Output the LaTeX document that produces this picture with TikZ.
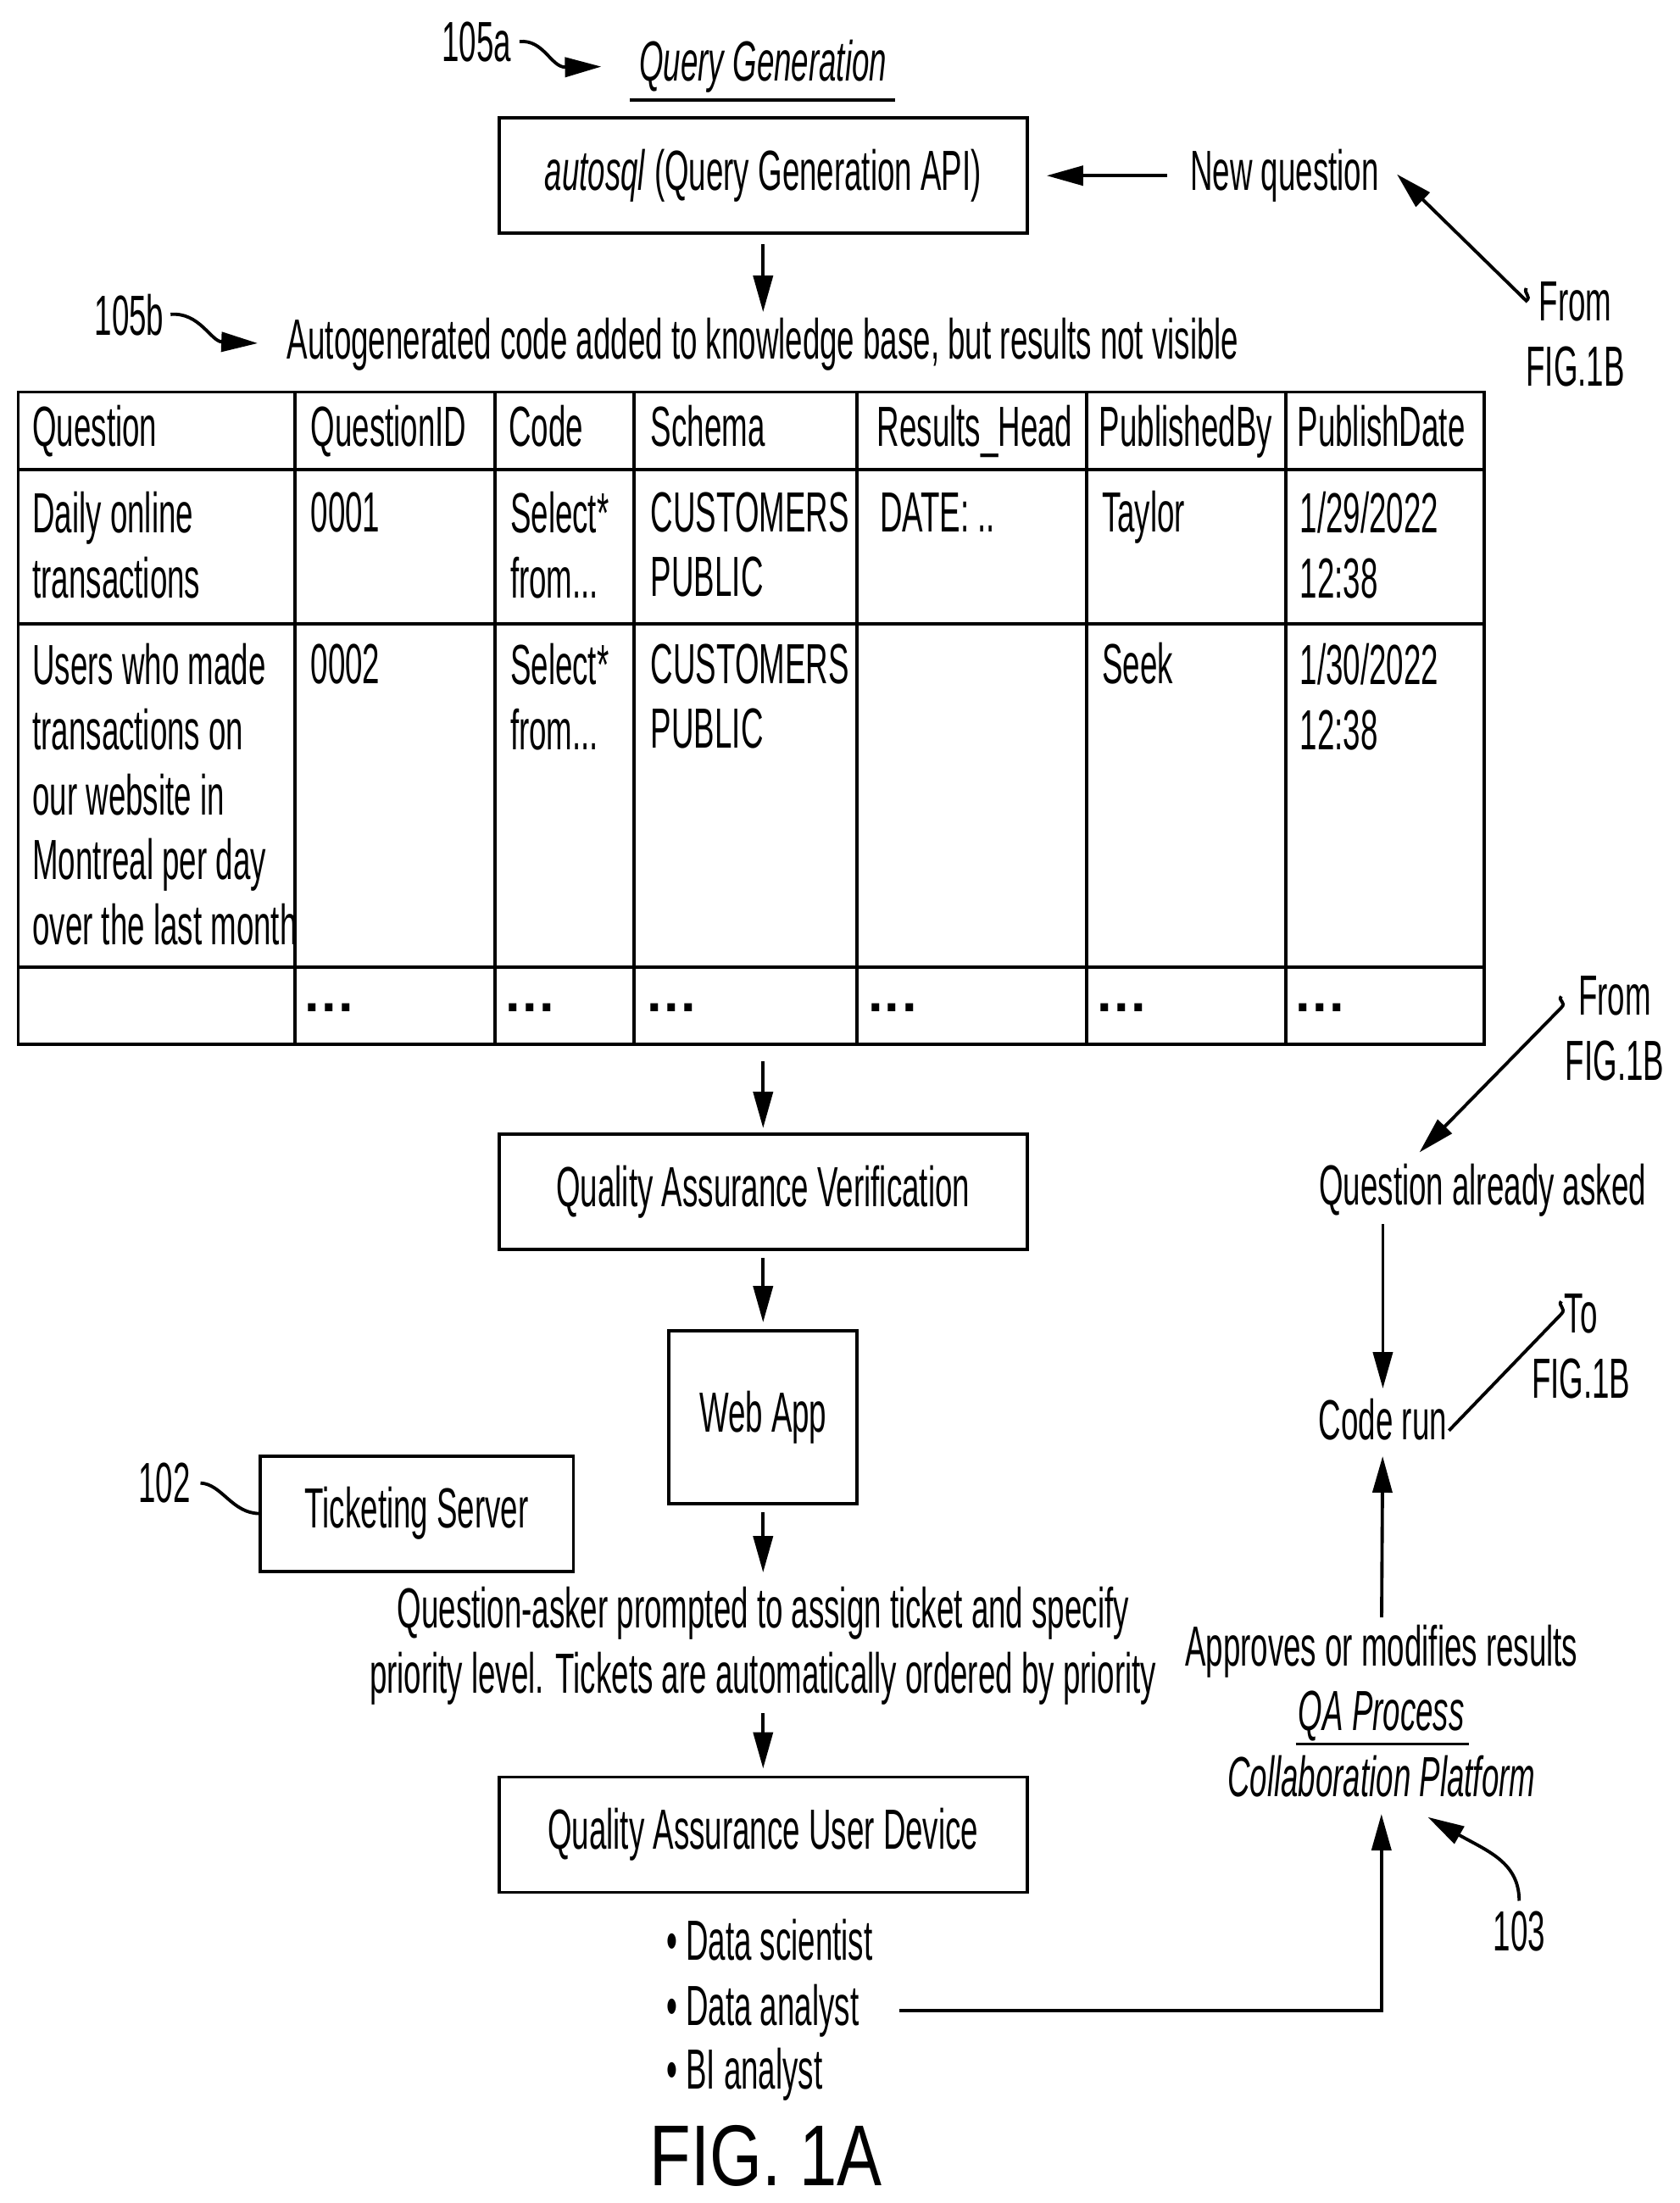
\documentclass[tikz,border=0pt]{standalone}
\usepackage{fontspec}
\setmainfont[FakeStretch=0.55]{Liberation Sans}
\newfontfamily\figfont[FakeStretch=0.78]{Liberation Sans}
\newfontfamily\dotfont{Liberation Sans}
\newcommand{\cellgap}{{\dotfont\bfseries\fontsize{18}{18}\selectfont .\hspace{0.7pt}.\hspace{0.7pt}.}}
\usetikzlibrary{shapes,arrows.meta}

\begin{document}
\begin{tikzpicture}[draw=black!100,x=0.01658cm,y=-0.01658cm,line width=1.1pt,font=\fontsize{19}{21.8}\selectfont]
	\def \hdrtop{284}
	\def \rowonetop{349}
	\def \rowonesgl{345}
	\def \rowtwotop{457}
	\def \rowtwosgl{453}
	\tikzstyle{box}=[rectangle,draw=black!100,inner sep=0pt,outer sep=0pt,minimum width=6.234cm,minimum height=1.36cm,font=\fontsize{19}{21.8}\selectfont]
	\tikzstyle{annot}=[inner sep=0pt,align=center,font=\fontsize{19}{21.8}\selectfont]
	\tikzstyle{cell}=[anchor=north west,inner sep=0pt,align=left,font=\fontsize{19}{21.8}\selectfont,execute at begin node=\strut]
	\tikzstyle{bullet}=[anchor=west,inner sep=0pt,text height=15pt,text depth=5pt,font=\fontsize{19}{21.8}\selectfont]
	\tikzstyle{flow}=[-{Triangle[length=4.3mm,width=2.3mm]}]
	\useasboundingbox (0,0) rectangle (1195.4,1567.6);
	% labels
	\node[annot] (l105a)	at (339,30)	{105a};
	\node[annot] (l105b)	at (92,224)	{105b};
	\node[annot] (l102)	at (117,1055)	{102};
	\node[annot] (l103)	at (1081,1374)	{103};
	\node[annot] (fromnew)	at (1121,238)	{From\\FIG.1B};
	\node[annot] (fromold)	at (1149,732)	{From\\FIG.1B};
	\node[annot] (tofig)	at (1125,958)	{To\\FIG.1B};
	% main column
	\node[annot] (qgen)	at (543,47)	{\itshape Query Generation};
	\node[box] (autosql)	at (543,125)	{\textit{autosql} (Query Generation API)};
	\node[annot] (newq)	at (914,125)	{New question};
	\node[annot] (autogen)	at (543,245)	{Autogenerated code added to knowledge base, but results not visible};
	\node[box] (qav)	at (543,848)	{Quality Assurance Verification};
	\node[box,minimum width=2.22cm,minimum height=2.04cm] (webapp)	at (543,1008.5)	{Web App};
	\node[box,minimum width=3.7cm] (ticket)	at (296.5,1077)	{Ticketing Server};
	\node[annot] (prompt)	at (543,1171)	{Question-asker prompted to assign ticket and specify\\priority level. Tickets are automatically ordered by priority};
	\node[box] (qaud)	at (543,1305.5)	{Quality Assurance User Device};
	\node[bullet] (ds)	at (473,1384)	{• Data scientist};
	\node[bullet] (da)	at (473,1430.5)	{• Data analyst};
	\node[bullet] (bi)	at (473,1476)	{• BI analyst};
	\node[annot,font=\figfont\fontsize{29}{29}\selectfont] (figlabel)	at (545,1534)	{FIG. 1A};
	% right column
	\node[annot] (asked)	at (1055,847)	{Question already asked};
	\node[annot] (coderun)	at (984,1010)	{Code run};
	\node[annot] (approves)	at (983,1175)	{Approves or modifies results};
	\node[annot] (qaproc)	at (983,1221)	{\itshape QA Process};
	\node[annot] (collab)	at (983,1264)	{\itshape Collaboration Platform};
	\draw (448,71) -- (637,71);
	\draw (922,1241) -- (1045,1241);
	% table grid
	\draw (13,279) rectangle (1056,743);
	\draw (13,334) -- (1056,334);
	\draw (13,444) -- (1056,444);
	\draw (13,688) -- (1056,688);
	\draw (210,279) -- (210,743);
	\draw (352,279) -- (352,743);
	\draw (451,279) -- (451,743);
	\draw (610,279) -- (610,743);
	\draw (773,279) -- (773,743);
	\draw (915,279) -- (915,743);
	% header row
	\node[cell] (h0)	at (22,\hdrtop)		{Question};
	\node[cell] (h1)	at (220,\hdrtop)	{QuestionID};
	\node[cell] (h2)	at (361,\hdrtop)	{Code};
	\node[cell] (h3)	at (462,\hdrtop)	{Schema};
	\node[cell] (h4)	at (623,\hdrtop)	{Results\_Head};
	\node[cell] (h5)	at (781,\hdrtop)	{PublishedBy};
	\node[cell] (h6)	at (922,\hdrtop)	{PublishDate};
	% first row
	\node[cell] (a0)	at (22,\rowonetop)	{Daily online\\transactions};
	\node[cell] (a1)	at (220,\rowonesgl)	{0001};
	\node[cell] (a2)	at (362,\rowonetop)	{Select*\\from...};
	\node[cell] (a3)	at (462,\rowonetop)	{CUSTOMERS\\PUBLIC};
	\node[cell] (a4)	at (625,\rowonesgl)	{DATE: ..};
	\node[cell] (a5)	at (783,\rowonesgl)	{Taylor};
	\node[cell] (a6)	at (924,\rowonetop)	{1/29/2022\\12:38};
	% second row
	\node[cell] (b0)	at (22,\rowtwotop)	{Users who made\\transactions on\\our website in\\Montreal per day\\over the last month};
	\node[cell] (b1)	at (220,\rowtwosgl)	{0002};
	\node[cell] (b2)	at (362,\rowtwotop)	{Select*\\from...};
	\node[cell] (b3)	at (462,\rowtwotop)	{CUSTOMERS\\PUBLIC};
	\node[cell] (b5)	at (783,\rowtwosgl)	{Seek};
	\node[cell] (b6)	at (924,\rowtwotop)	{1/30/2022\\12:38};
	% last row
	\node[annot] (c1)	at (234,717)	{\cellgap};
	\node[annot] (c2)	at (377,717)	{\cellgap};
	\node[annot] (c3)	at (478,717)	{\cellgap};
	\node[annot] (c4)	at (635,717)	{\cellgap};
	\node[annot] (c5)	at (798,717)	{\cellgap};
	\node[annot] (c6)	at (939,717)	{\cellgap};
	\coordinate (tablesouth) at (543,743);
	% free ends
	\coordinate (newqtip) at (994,124);
	\coordinate (askedtip) at (1010,820);
	\coordinate (collabtip) at (1016,1293);
	\coordinate (runend) at (1031,1018);
	\coordinate (tailnew) at (1086,205);
	\coordinate (tailold) at (1111,709);
	\coordinate (tailto) at (1111,926);
	% connectors
	\draw[flow,shorten <=1.3mm,shorten >=0.5mm] (autosql) -- (autogen);
	\draw[flow,shorten <=2.5mm,shorten >=2.3mm] (newq) -- (autosql.east |- newq);
	\draw[flow,shorten <=2mm,shorten >=0.7mm] (tablesouth) -- (qav);
	\draw[flow,shorten <=1mm,shorten >=1mm] (qav) -- (webapp);
	\draw[flow,shorten <=1mm,shorten >=1.5mm] (webapp) -- (prompt);
	\draw[flow,shorten <=0.8mm,shorten >=1mm] (prompt) -- (qaud);
	\draw[flow,shorten <=0.7mm,shorten >=1mm] (asked.south -| coderun) -- (coderun);
	\draw[flow,shorten <=0.7mm,shorten >=1.7mm] (approves) -- (coderun);
	\draw[flow,shorten <=4.6mm,shorten >=1.8mm] (da.east) -| (collab);
	\draw[flow,shorten <=0.8mm,shorten >=4.3mm] (l105a.east) .. controls (387,28) and (392,48) .. (qgen.west);
	\draw[flow,shorten <=0.6mm,shorten >=3.3mm] (l105b.east) .. controls (142,222) and (150,243) .. (autogen.west);
	\draw[shorten <=1mm] (l102.east) .. controls (158,1056) and (165,1077) .. (ticket.west);
	\draw[flow,shorten <=1mm] (l103.north) .. controls (1081,1325) and (1058,1317) .. (collabtip);
	\draw[flow] (tailnew) .. controls (1084,209) and (1090,211) .. (1086,214) -- (newqtip);
	\draw[flow] (tailold) .. controls (1108,712) and (1115,713) .. (1111,717) -- (askedtip);
	\draw (tailto) .. controls (1108,929) and (1115,931) .. (1111,935) -- (runend);
\end{tikzpicture}
\end{document}
